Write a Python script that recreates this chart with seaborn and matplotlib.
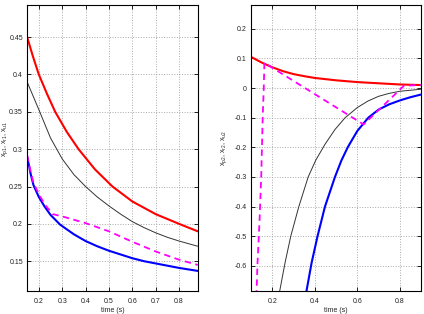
import numpy as np
import pandas as pd
import matplotlib
matplotlib.use("Agg")
import matplotlib.pyplot as plt
import seaborn as sns
from matplotlib.ticker import FormatStrFormatter

# left panel data
l_red_t = [0.15, 0.175, 0.2, 0.235, 0.27, 0.32, 0.37, 0.44, 0.515, 0.6, 0.7, 0.8, 0.88]
l_red_x = [0.45, 0.424, 0.4, 0.374, 0.35, 0.323, 0.3, 0.273, 0.25, 0.23, 0.213, 0.2, 0.19]
l_blk_t = [0.15, 0.2, 0.25, 0.3, 0.35, 0.4, 0.45, 0.5, 0.55, 0.6, 0.65, 0.7, 0.75, 0.8, 0.88]
l_blk_x = [0.39, 0.353, 0.315, 0.287, 0.266, 0.25, 0.236, 0.224, 0.213, 0.203, 0.195, 0.188, 0.182, 0.177, 0.17]
l_blu_t = [0.15, 0.165, 0.177, 0.2, 0.225, 0.25, 0.291, 0.35, 0.4, 0.45, 0.5, 0.55, 0.6, 0.65, 0.7, 0.75, 0.8, 0.88]
l_blu_x = [0.29, 0.267, 0.252, 0.236, 0.223, 0.212, 0.199, 0.186, 0.177, 0.17, 0.164, 0.159, 0.154, 0.15, 0.147, 0.144, 0.141, 0.137]
l_mag_t = [0.15, 0.165, 0.177, 0.2, 0.225, 0.26, 0.3, 0.4, 0.5, 0.6, 0.7, 0.8, 0.88]
l_mag_x = [0.292, 0.27, 0.255, 0.24, 0.226, 0.213, 0.21, 0.201, 0.19, 0.176, 0.163, 0.152, 0.145]

# right panel data
r_red_t = [0.1, 0.15, 0.2, 0.25, 0.3, 0.35, 0.4, 0.5, 0.6, 0.7, 0.8, 0.9]
r_red_x = [0.105, 0.086, 0.07, 0.057, 0.047, 0.04, 0.034, 0.026, 0.02, 0.016, 0.012, 0.01]
r_blk_t = [0.225, 0.235, 0.26, 0.287, 0.325, 0.369, 0.405, 0.448, 0.495, 0.543, 0.6, 0.65, 0.7, 0.75, 0.8, 0.9]
r_blk_x = [-0.74, -0.685, -0.59, -0.5, -0.4, -0.3, -0.243, -0.19, -0.14, -0.1, -0.066, -0.044, -0.028, -0.018, -0.011, -0.004]
r_blu_t = [0.35, 0.361, 0.385, 0.413, 0.448, 0.495, 0.525, 0.555, 0.6, 0.652, 0.7, 0.75, 0.8, 0.85, 0.9]
r_blu_x = [-0.74, -0.685, -0.59, -0.5, -0.4, -0.3, -0.245, -0.2, -0.145, -0.1, -0.073, -0.055, -0.042, -0.031, -0.022]
r_mag_t = [0.124, 0.13, 0.14, 0.148, 0.155, 0.16, 0.163, 0.63, 0.82, 0.9]
r_mag_x = [-0.74, -0.6, -0.45, -0.3, -0.1, 0.0, 0.085, -0.123, 0.008, 0.01]

l_xticks = [0.2, 0.3, 0.4, 0.5, 0.6, 0.7, 0.8]
l_yticks = [0.15, 0.2, 0.25, 0.3, 0.35, 0.4, 0.45]
r_xticks = [0.2, 0.4, 0.6, 0.8]
r_yticks = [-0.6, -0.5, -0.4, -0.3, -0.2, -0.1, 0, 0.1, 0.2]

sns.set_style("ticks")
plt.rcParams['font.family'] = ['Liberation Sans', 'DejaVu Sans']
plt.rcParams['mathtext.fontset'] = 'custom'
plt.rcParams['mathtext.rm'] = 'Liberation Sans'
plt.rcParams['mathtext.it'] = 'Liberation Sans'

fig = plt.figure(figsize=(4.24, 3.14), dpi=100)
ax1 = fig.add_axes([0.064, 0.073, 0.403, 0.911])
ax2 = fig.add_axes([0.592, 0.073, 0.401, 0.911])

def draw(ax, t, x, color, lw, dashed=False):
    df = pd.DataFrame({'t': t, 'x': x})
    sns.lineplot(data=df, x='t', y='x', ax=ax, color=color, lw=lw, sort=False)
    if dashed:
        ax.lines[-1].set_dashes((3.5, 2.5))

draw(ax1, l_red_t, l_red_x, '#ff0000', 1.5)
draw(ax1, l_blk_t, l_blk_x, '#333333', 0.7)
draw(ax1, l_blu_t, l_blu_x, '#0000ff', 1.5)
draw(ax1, l_mag_t, l_mag_x, '#ff00ff', 1.3, dashed=True)

draw(ax2, r_red_t, r_red_x, '#ff0000', 1.5)
draw(ax2, r_blk_t, r_blk_x, '#333333', 0.7)
draw(ax2, r_blu_t, r_blu_x, '#0000ff', 1.5)
draw(ax2, r_mag_t, r_mag_x, '#ff00ff', 1.3, dashed=True)

ax1.set_xlim(0.15, 0.881)
ax1.set_ylim(0.11, 0.493)
ax1.set_xticks(l_xticks)
ax1.set_yticks(l_yticks)
ax1.set_ylabel('x$_{p1}$, x$_{r1}$, x$_{u1}$', fontsize=5)
ax1.yaxis.set_label_coords(-0.098, 0.53)

ax2.set_xlim(0.1, 0.9)
ax2.set_ylim(-0.685, 0.28)
ax2.set_xticks(r_xticks)
ax2.set_yticks(r_yticks)
ax2.set_ylabel('x$_{p2}$, x$_{r2}$, x$_{u2}$', fontsize=5)
ax2.yaxis.set_label_coords(-0.13, 0.5)

for ax in (ax1, ax2):
    ax.set_xlabel('time (s)', fontsize=5, labelpad=1.5)
    ax.xaxis.set_major_formatter(FormatStrFormatter('%g'))
    ax.yaxis.set_major_formatter(FormatStrFormatter('%g'))
    ax.tick_params(direction='in', labelsize=5, length=3, width=0.6,
                   top=True, right=True, colors='black', labelcolor='#222222')
    ax.tick_params(axis='y', pad=3)
    ax.tick_params(axis='x', pad=5)
    ax.grid(True, color='#aaaaaa', linestyle=':', linewidth=0.7)
    for s in ax.spines.values():
        s.set_visible(True)
        s.set_color('black')
        s.set_linewidth(0.8)

fig.savefig('out.png', dpi=100)
